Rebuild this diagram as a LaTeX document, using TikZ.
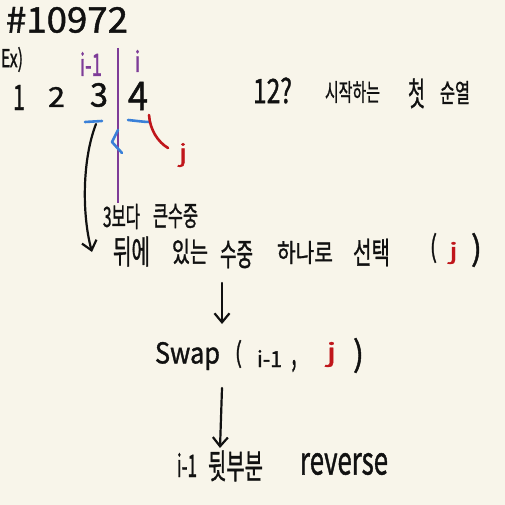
\documentclass[tikz,border=0pt]{standalone}
\usepackage{fontspec}
\setmainfont{Noto Sans CJK KR}[FakeBold=1.3]
\usepackage{graphicx}
\usetikzlibrary{arrows.meta}
\definecolor{paper}{HTML}{F8F5EA}
\definecolor{ink}{HTML}{111111}
\definecolor{pur}{HTML}{7E3C98}
\definecolor{blu}{HTML}{3A80D8}
\definecolor{rd}{HTML}{C0161B}
% fit a text into a box of given width and total height
\newcommand\fb[3]{\resizebox*{#1pt}{#2pt}{#3}}
\newcommand\kb[3]{\resizebox*{#1pt}{\dimexpr #2pt*110/100\relax}{#3}}
\tikzset{
  txt/.style={inner sep=0pt, outer sep=0pt, anchor=center, text=ink},
  ptxt/.style={txt, text=pur},
  rtxt/.style={txt, text=rd},
  flow/.style={draw=ink, line width=2.2pt, line cap=round,
    -{Straight Barb[length=9pt,width=15pt,line width=2.2pt]}},
  penline/.style={line width=2.6pt, line cap=round, line join=round}
}
\begin{document}
\begin{tikzpicture}[x=1pt,y=-1pt]
\useasboundingbox (0,0) rectangle (505,505);
\fill[paper] (0,0) rectangle (505,505);

% header
\node[txt] (title) at (67,20) {\fb{122}{26}{\#10972}};
\node[txt] (ex) at (12,59.5) {\fb{22}{25}{Ex)}};

% indices
\node[ptxt] (im1) at (91,64) {\fb{22}{24}{i-1}};
\node[ptxt] (ii) at (137.5,61) {\fb{6}{22}{i}};

% sequence
\node[txt] (n1) at (19,97.5) {\fb{12}{25}{1}};
\node[txt] (n2) at (56.5,97) {\fb{17}{20}{2}};
\node[txt] (n3) at (99,95) {\fb{18}{24}{3}};
\node[txt] (n4) at (138,96) {\fb{20}{28}{4}};

% note
\node[txt] (q) at (272.5,90.5) {\fb{39}{26}{12?}};
\node[txt] (w1) at (352.5,92) {\kb{55}{20}{시작하는}};
\node[txt] (w2) at (416.5,93.5) {\kb{17}{27}{첫}};
\node[txt] (w3) at (455,92.5) {\kb{30}{21}{순열}};

% divider and marks
\draw[pur, line width=2.4pt] (118,48) -- (118,203);
\draw[blu, penline] (85,122) -- (102,121);
\draw[blu, penline] (128,120) .. controls (138,121) and (144,122) .. (150,122);
\draw[blu, penline] (118,130) -- (112,142) -- (122,153);
\draw[rd, penline] (149,115) .. controls (150,130) and (158,142) .. (168,148);
\node[rtxt] (jr) at (183,155) {\fb{8}{24}{j}};

% line 1
\node[txt] (l1a) at (121.5,216.5) {\kb{37}{23}{3보다}};
\node[txt] (l1b) at (175.5,216) {\kb{45}{22}{큰수중}};

% line 2
\node[txt] (l2a) at (131.5,251.5) {\kb{37}{27}{뒤에}};
\node[txt] (l2b) at (190,251.5) {\kb{36}{23}{있는}};
\node[txt] (l2c) at (236.5,254.5) {\kb{33}{25}{수중}};
\node[txt] (l2d) at (305,252.5) {\kb{56}{21}{하나로}};
\node[txt] (l2e) at (371.5,252.5) {\kb{37}{25}{선택}};
\node[txt] (l2f) at (433.5,248) {\fb{7}{30}{(}};
\node[rtxt] (l2g) at (453.5,253) {\fb{9}{22}{j}};
\node[txt] (l2h) at (476.5,250) {\fb{11}{34}{)}};

% swap
\node[txt] (s1) at (187.5,356) {\fb{65}{28}{Swap}};
\node[txt] (s2) at (238.5,354) {\fb{7}{28}{(}};
\node[txt] (s3) at (269.5,358.5) {\fb{25}{17}{i-1}};
\node[txt] (s4) at (294,366) {\fb{5}{12}{,}};
\node[rtxt] (s5) at (331.5,354.5) {\fb{10}{25}{j}};
\node[txt] (s6) at (358.5,355.5) {\fb{11}{35}{)}};

% reverse
\node[txt] (r1) at (187,465) {\fb{20}{24}{i-1}};
\node[txt] (r2) at (235.5,466) {\kb{55}{28}{뒷부분}};
\node[txt] (r3) at (344,464) {\fb{88}{22}{reverse}};

% arrows
\coordinate (a1s) at (96,124);
\coordinate (a1e) at (92,252);
\coordinate (a2s) at (222,283);
\coordinate (a2e) at (222,324);
\coordinate (a3s) at (222,388);
\coordinate (a3e) at (220,448);
\draw[flow] (a1s) .. controls (82,160) and (82,215) .. (a1e);
\draw[flow] (a2s) -- (a2e);
\draw[flow] (a3s) -- (a3e);
\end{tikzpicture}
\end{document}
